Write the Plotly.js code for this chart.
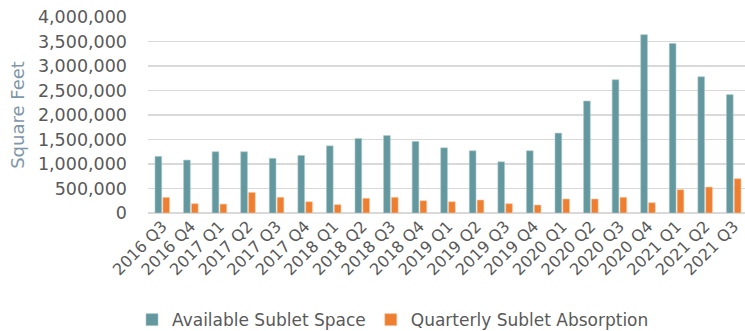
<!DOCTYPE html>
<html>
<head>
<meta charset="utf-8">
<script src="https://cdn.plot.ly/plotly-3.0.1.min.js"></script>
<style>html,body{margin:0;padding:0;overflow:hidden;background:#fff}</style>
</head>
<body>
<div id="chart" style="width:748px;height:331px"></div>
<script>
const quarters = ["2016 Q3","2016 Q4","2017 Q1","2017 Q2","2017 Q3","2017 Q4","2018 Q1","2018 Q2","2018 Q3","2018 Q4","2019 Q1","2019 Q2","2019 Q3","2019 Q4","2020 Q1","2020 Q2","2020 Q3","2020 Q4","2021 Q1","2021 Q2","2021 Q3"];
const availableSublet = [1155000,1080000,1250000,1250000,1115000,1175000,1370000,1520000,1580000,1460000,1330000,1270000,1045000,1270000,1630000,2285000,2720000,3640000,3460000,2780000,2415000];
const quarterlyAbsorption = [318000,190000,182000,420000,320000,230000,170000,300000,320000,250000,230000,265000,190000,163000,286000,286000,320000,210000,476000,530000,700000];
const yTicks = [0,500000,1000000,1500000,2000000,2500000,3000000,3500000,4000000];

const textColor = "#595959";
const fontFam = "DejaVu Sans, sans-serif";

const traces = [
  {type:"bar", name:"Available Sublet Space", x:quarters, y:availableSublet,
   marker:{color:"#64989f", line:{color:"#a9c7cb", width:0.6}}},
  {type:"bar", name:"Quarterly Sublet Absorption", x:quarters, y:quarterlyAbsorption,
   marker:{color:"#ef7f30", line:{color:"#f7c6a2", width:0.6}}}
];

const layout = {
  width:748, height:331,
  margin:{l:148, r:0, t:17, b:118, pad:0},
  paper_bgcolor:"#fff", plot_bgcolor:"#fff",
  barmode:"group", bargap:0.45, bargroupgap:0.15,
  font:{family:fontFam, color:textColor, size:15},
  showlegend:true,
  legend:{orientation:"h", xref:"container", yref:"container", x:0.1765, xanchor:"left", y:0.033, yanchor:"middle",
          font:{family:fontFam, size:17, color:textColor}, itemwidth:30, traceorder:"normal"},
  xaxis:{type:"category", tickangle:-45, tickfont:{family:fontFam, size:16, color:textColor},
         showgrid:false, showline:false, ticks:"", zeroline:false, automargin:false},
  yaxis:{range:[0,4000000], tickvals:yTicks, tickformat:",", showgrid:true, gridcolor:"#d9d9d9", gridwidth:1.5,
         zeroline:true, zerolinecolor:"#d9d9d9", zerolinewidth:1.5, showline:false, ticks:"", ticklen:0,
         ticklabelstandoff:20,
         tickfont:{family:fontFam, size:17.5, color:textColor}, automargin:false,
         title:{text:"Square Feet", font:{family:fontFam, size:18, color:"#7f97a8"}, standoff:8}}
};

Plotly.newPlot("chart", traces, layout, {displayModeBar:false, staticPlot:true});
</script>
</body>
</html>
